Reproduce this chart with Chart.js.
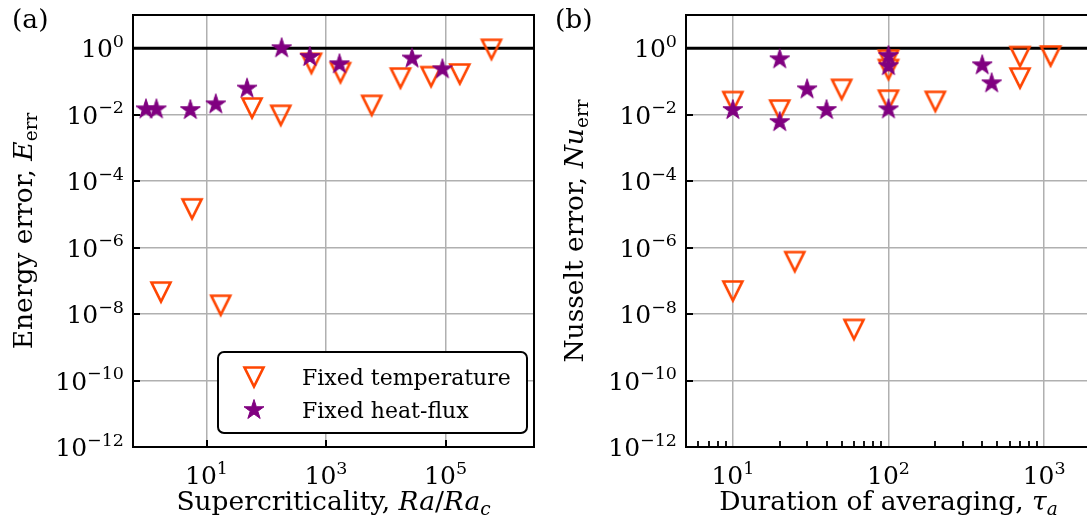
<!DOCTYPE html>
<html>
<head>
<meta charset="utf-8">
<script src="https://cdn.jsdelivr.net/npm/chart.js@4.4.1/dist/chart.umd.min.js"></script>
<style>
  html, body { margin: 0; padding: 0; background: #fff; overflow: hidden; width: 1087px; height: 521px; }
  canvas { position: absolute; top: 0; }
  #panelA { left: 0; }
  #panelB { left: 545px; }
</style>
</head>
<body>
<canvas id="panelA" width="545" height="521"></canvas>
<canvas id="panelB" width="560" height="521"></canvas>
<script>
// (a) energy error against supercriticality Ra/Ra_c
const aTempRa   = [1.73, 5.73, 17.3, 57.8, 175, 569, 1745, 5820, 17600, 57300, 173000, 586000];
const aTempErr  = [4.6e-8, 1.47e-5, 1.85e-8, 0.0159, 0.0096, 0.353, 0.185, 0.0191, 0.127, 0.14, 0.168, 0.93];
const aFluxRa   = [0.97, 1.45, 5.37, 14.3, 47.7, 181, 535, 1679, 27500, 88500];
const aFluxErr  = [0.0145, 0.0145, 0.0138, 0.0205, 0.061, 1.0, 0.547, 0.33, 0.489, 0.233];

// (b) Nusselt error against averaging duration tau_a
const bTempTau  = [10, 10, 20, 25, 50, 60, 100, 100, 100, 200, 700, 700, 1100];
const bTempErr  = [0.0249, 4.96e-8, 0.0138, 3.79e-7, 0.058, 3.45e-9, 0.44, 0.23, 0.0274, 0.0252, 0.562, 0.127, 0.586];
const bFluxTau  = [10, 20, 20, 30, 40, 100, 100, 100, 400, 460];
const bFluxErr  = [0.0138, 0.466, 0.006, 0.058, 0.0138, 0.586, 0.29, 0.0145, 0.307, 0.088];

// ticks
const yTicks      = [1e-12, 1e-10, 1e-8, 1e-6, 1e-4, 1e-2, 1e0];
const aXTicks     = [1e1, 1e3, 1e5];
const bXTicks     = [1e1, 1e2, 1e3];
const bXMinor     = [6, 7, 8, 9, 20, 30, 40, 50, 60, 70, 80, 90, 200, 300, 400, 500, 600, 700, 800, 900];
const legendNames = ['Fixed temperature', 'Fixed heat-flux'];

const ORANGE = '#ff4500';
const PURPLE = '#800080';
const GRID = '#b0b0b0';
const FAMILY = '"DejaVu Serif", serif';
const TICK_FS = 25;
const TITLE_FS = 26.5;
const LEGEND_FS = 22;

// ---- marker images ----
function triangleMarker() {
  const c = document.createElement('canvas');
  c.width = 28; c.height = 28;
  const g = c.getContext('2d');
  g.strokeStyle = ORANGE;
  g.lineWidth = 2.6;
  g.beginPath();
  g.moveTo(4.5, 4.5); g.lineTo(23.5, 4.5); g.lineTo(14, 23.5);
  g.closePath();
  g.stroke();
  return c;
}

function starMarker() {
  const c = document.createElement('canvas');
  c.width = 26; c.height = 26;
  const g = c.getContext('2d');
  const R = 10.5, r = R * 0.381966;
  g.fillStyle = PURPLE;
  g.strokeStyle = PURPLE;
  g.lineWidth = 1;
  g.beginPath();
  for (let i = 0; i < 10; i++) {
    const ang = -Math.PI / 2 + i * Math.PI / 5;
    const rad = i % 2 ? r : R;
    const px = 13 + rad * Math.cos(ang), py = 13 + rad * Math.sin(ang);
    if (i === 0) g.moveTo(px, py); else g.lineTo(px, py);
  }
  g.closePath();
  g.fill();
  g.stroke();
  return c;
}

const triImg = triangleMarker();
const starImg = starMarker();

// ---- text with italics / sub / superscripts ----
function font(size, italic) {
  return (italic ? 'italic ' : '') + size + 'px ' + FAMILY;
}
function runSize(r, fs) { return (r.sup || r.sub) ? fs * 0.7 : fs; }
function richWidth(ctx, runs, fs) {
  let w = 0;
  for (const r of runs) { ctx.font = font(runSize(r, fs), r.it); w += ctx.measureText(r.t).width; }
  return w;
}
function drawRich(ctx, runs, x, y, align, fs) {
  const w = richWidth(ctx, runs, fs);
  let cx = align === 'center' ? x - w / 2 : align === 'right' ? x - w : x;
  ctx.textAlign = 'left';
  ctx.textBaseline = 'alphabetic';
  ctx.fillStyle = '#000';
  for (const r of runs) {
    ctx.font = font(runSize(r, fs), r.it);
    const dy = r.sup ? -0.42 * fs : r.sub ? 0.2 * fs : 0;
    ctx.fillText(r.t, cx, y + dy);
    cx += ctx.measureText(r.t).width;
  }
}
function powerLabel(v) {
  const k = Math.round(Math.log10(v));
  return [{ t: '10' }, { t: k < 0 ? '\u2212' + (-k) : String(k), sup: true }];
}

// frame, inward ticks, tick labels, titles and legend
function decorations(cfg) {
  return {
    id: 'decorations',
    afterDraw(chart) {
      const { ctx, chartArea: a, scales: { x, y } } = chart;
      ctx.save();
      ctx.strokeStyle = '#000';
      ctx.lineCap = 'butt';

      ctx.lineWidth = 2;
      for (const v of yTicks) {
        const py = Math.round(y.getPixelForValue(v));
        ctx.beginPath(); ctx.moveTo(a.left, py); ctx.lineTo(a.left + 7, py); ctx.stroke();
      }
      if (cfg.majorXTicks) {
        for (const v of cfg.xTicks) {
          const px = Math.round(x.getPixelForValue(v));
          ctx.beginPath(); ctx.moveTo(px, a.bottom); ctx.lineTo(px, a.bottom - 7); ctx.stroke();
        }
      }
      ctx.lineWidth = 1.8;
      for (const v of cfg.xMinor || []) {
        const px = Math.round(x.getPixelForValue(v));
        ctx.beginPath(); ctx.moveTo(px, a.bottom); ctx.lineTo(px, a.bottom - 6); ctx.stroke();
      }

      ctx.lineWidth = 2;
      ctx.strokeRect(a.left, a.top, a.right - a.left, a.bottom - a.top);

      for (const v of yTicks) {
        drawRich(ctx, powerLabel(v), a.left - 9, y.getPixelForValue(v) + 9, 'right', TICK_FS);
      }
      for (const v of cfg.xTicks) {
        drawRich(ctx, powerLabel(v), x.getPixelForValue(v), a.bottom + 37, 'center', TICK_FS);
      }

      drawRich(ctx, cfg.xTitle, (a.left + a.right) / 2, 510, 'center', TITLE_FS);
      ctx.save();
      ctx.translate(cfg.yTitleX, (a.top + a.bottom) / 2);
      ctx.rotate(-Math.PI / 2);
      drawRich(ctx, cfg.yTitle, 0, 0, 'center', TITLE_FS);
      ctx.restore();

      drawRich(ctx, [{ t: cfg.tag }], cfg.tagX, 28, 'left', TITLE_FS);

      if (cfg.legend) {
        const L = cfg.legend;
        ctx.beginPath();
        ctx.roundRect(L.x, L.y, L.w, L.h, 6);
        ctx.fillStyle = '#fff';
        ctx.fill();
        ctx.lineWidth = 2;
        ctx.stroke();
        const imgs = [triImg, starImg];
        chart.data.datasets.slice(0, 2).forEach((ds, i) => {
          const cy = L.y + 25 + i * 33;
          ctx.drawImage(imgs[i], L.x + 36 - imgs[i].width / 2, cy - imgs[i].height / 2);
          drawRich(ctx, [{ t: ds.label }], L.x + 84, cy + 8, 'left', LEGEND_FS);
        });
      }
      ctx.restore();
    }
  };
}

function pairs(xs, ys) { return xs.map((v, i) => ({ x: v, y: ys[i] })); }

function makePanel(id, cfg) {
  return new Chart(document.getElementById(id), {
    type: 'scatter',
    data: {
      datasets: [
        { label: legendNames[0], data: pairs(cfg.tempX, cfg.tempY), pointStyle: triImg, pointRadius: 10, order: 2 },
        { label: legendNames[1], data: pairs(cfg.fluxX, cfg.fluxY), pointStyle: starImg, pointRadius: 10, order: 1 },
        { label: 'unity', data: [{ x: cfg.xMin, y: 1 }, { x: cfg.xMax, y: 1 }], showLine: true,
          borderColor: '#000', borderWidth: 3, pointRadius: 0, order: 3 }
      ]
    },
    options: {
      responsive: false,
      animation: false,
      devicePixelRatio: 1,
      layout: { padding: { top: 15, right: cfg.padRight, left: 0, bottom: 0 } },
      plugins: { legend: { display: false }, tooltip: { enabled: false } },
      scales: {
        x: {
          type: 'logarithmic', min: cfg.xMin, max: cfg.xMax,
          afterBuildTicks: s => { s.ticks = cfg.xTicks.map(v => ({ value: v })); },
          afterFit: s => { s.height = 74; },
          ticks: { display: false },
          grid: { color: GRID, lineWidth: 1.5, drawTicks: false },
          border: { display: false }
        },
        y: {
          type: 'logarithmic', min: 1e-12, max: 10,
          afterBuildTicks: s => { s.ticks = yTicks.map(v => ({ value: v })); },
          afterFit: s => { s.width = cfg.left; },
          ticks: { display: false },
          grid: { color: GRID, lineWidth: 1.5, drawTicks: false },
          border: { display: false }
        }
      }
    },
    plugins: [decorations(cfg)]
  });
}

makePanel('panelA', {
  tempX: aTempRa, tempY: aTempErr, fluxX: aFluxRa, fluxY: aFluxErr,
  xMin: Math.pow(10, -0.23), xMax: Math.pow(10, 6.48), xTicks: aXTicks, majorXTicks: true,
  left: 133, padRight: 7,
  xTitle: [{ t: 'Supercriticality, ' }, { t: 'Ra', it: true }, { t: '/' }, { t: 'Ra', it: true }, { t: 'c', it: true, sub: true }],
  yTitle: [{ t: 'Energy error, ' }, { t: 'E', it: true }, { t: 'err', sub: true }],
  yTitleX: 32, tag: '(a)', tagX: 12,
  legend: { x: 218, y: 352, w: 309, h: 81 }
});

makePanel('panelB', {
  tempX: bTempTau, tempY: bTempErr, fluxX: bFluxTau, fluxY: bFluxErr,
  xMin: 5, xMax: 2000, xTicks: bXTicks, xMinor: bXMinor, majorXTicks: false,
  left: 141, padRight: 14,
  xTitle: [{ t: 'Duration of averaging, ' }, { t: '\u03c4', it: true }, { t: 'a', it: true, sub: true }],
  yTitle: [{ t: 'Nusselt error, ' }, { t: 'Nu', it: true }, { t: 'err', sub: true }],
  yTitleX: 38, tag: '(b)', tagX: 10
});
</script>
</body>
</html>
